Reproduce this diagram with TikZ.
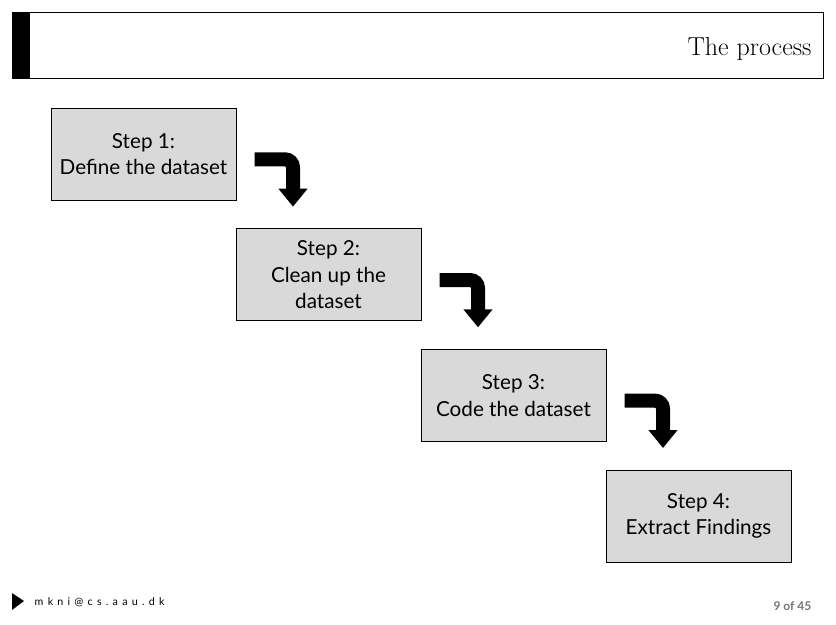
\documentclass[tikz,border=0pt]{standalone}
\usepackage{fontspec}
\setsansfont{Lato}
\usetikzlibrary{positioning,arrows.meta}
\begin{document}
\begin{tikzpicture}[
  x=0.75pt, y=-0.75pt,
  stepbox/.style={draw, thin, fill=black!15, font=\sffamily\fontsize{15.5}{20}\selectfont,
                  align=center, minimum width=138.75pt, minimum height=69pt,
                  inner sep=0pt, outer sep=0pt},
  bent/.style={line width=10.5pt, rounded corners=6pt,
               -{Triangle[length=13.5pt, width=21pt]}},
]
\useasboundingbox (0,0) rectangle (836,625);
% Kopfzeile
\node[draw, thin, minimum width=608.25pt, minimum height=49.5pt, inner sep=0pt,
      anchor=north west] (head) at (12,12) {};
\fill (head.north west) rectangle ([xshift=13.5pt]head.south west);
\node[anchor=east, font=\fontsize{19.5}{22}\selectfont] (title)
  at ([xshift=-5.5pt,yshift=-2.5pt]head.east) {The process};
% Schritte
\node[stepbox, anchor=north west] (s1) at (51,108) {Step 1:\\Define the dataset};
\node[stepbox, below right=21.5pt and 0pt of s1] (s2) {Step 2:\\Clean up the\\dataset};
\node[stepbox, below right=21.5pt and 0pt of s2] (s3) {Step 3:\\Code the dataset};
\node[stepbox, below right=21.5pt and 0pt of s3] (s4) {Step 4:\\Extract Findings};
% Pfeile
\draw[bent] ([xshift=14pt,yshift=-4pt]s1.east) -| ([xshift=42.75pt,yshift=16.5pt]s2.north west);
\draw[bent] ([xshift=14pt,yshift=-4pt]s2.east) -| ([xshift=42.75pt,yshift=16.5pt]s3.north west);
\draw[bent] ([xshift=14pt,yshift=-4pt]s3.east) -| ([xshift=42.75pt,yshift=16.5pt]s4.north west);
% Fusszeile
\fill (12,593) -- (24,601) -- (12,610) -- cycle;
\node[anchor=west, font=\sffamily\fontsize{8}{10}\selectfont\addfontfeatures{LetterSpace=40}]
  (mail) at (30,602) {mkni@cs.aau.dk};
\node[anchor=east, font=\sffamily\bfseries\fontsize{9}{11}\selectfont, text=black!55]
  (page) at (816,606) {9 of 45};
\end{tikzpicture}
\end{document}
